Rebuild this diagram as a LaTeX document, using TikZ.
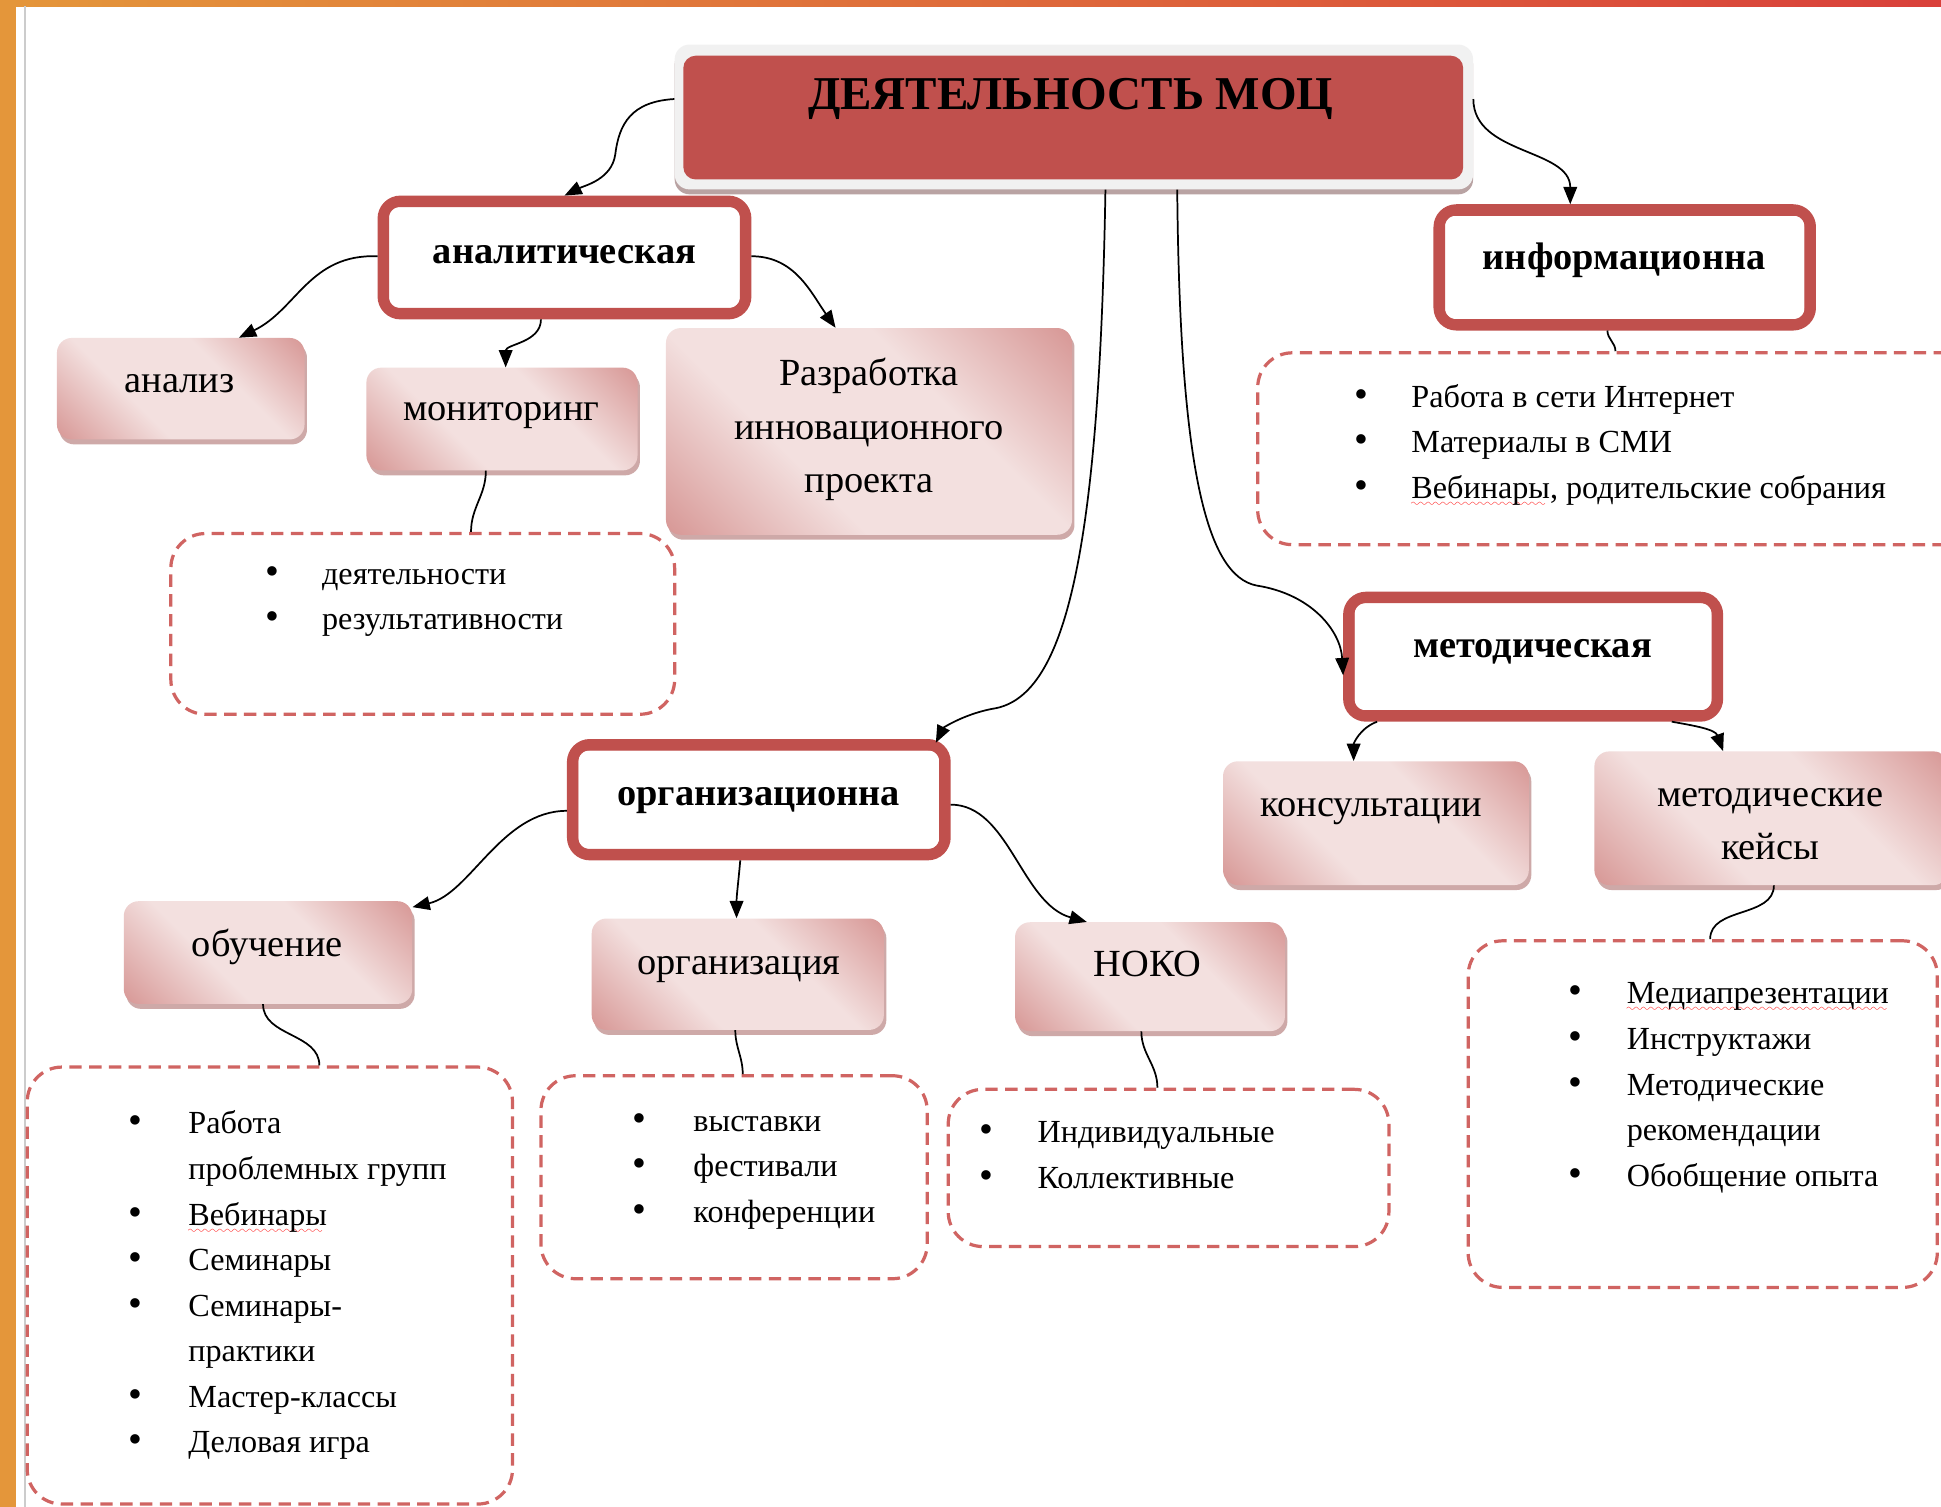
\documentclass[tikz,border=0pt]{standalone}
\usepackage{fontspec}
\setmainfont{Liberation Serif}
\usetikzlibrary{arrows.meta,shadows,calc}
\definecolor{accred}{HTML}{C0504D}
\definecolor{pinkdark}{HTML}{D48F8D}
\definecolor{pinklight}{HTML}{F3E0DF}
\definecolor{dashred}{HTML}{D06462}
\definecolor{orangeA}{HTML}{E4963A}
\definecolor{redB}{HTML}{D9403A}
\definecolor{rimgray}{HTML}{F1F1F1}
\definecolor{rimshadow}{HTML}{A88C8C}
\pgfdeclareverticalshading{pinkshade}{100bp}{color(0bp)=(pinkdark); color(12bp)=(pinkdark); color(38bp)=(pinklight); color(62bp)=(pinklight); color(88bp)=(pinkdark); color(100bp)=(pinkdark)}
\font\wavefont=lasy10 at 9pt
\newcommand\spellwave[1]{\setbox0\hbox{#1}\rlap{\smash{\textcolor{red}{\raisebox{-6.5pt}{\hbox to \wd0{\leaders\hbox{\wavefont\char58}\hfill}}}}}#1}
\newcommand\bul{{\fontsize{32}{0}\selectfont\textbullet}}
\tikzset{
  rim/.style={fill=rimgray, rounded corners=12pt, inner sep=0pt, minimum width=645, minimum height=117,
    drop shadow={shadow xshift=0pt, shadow yshift=-4pt, fill=rimshadow, opacity=0.8}},
  dblbox/.style={draw=accred, line width=9pt, fill=white, rounded corners=14pt, inner sep=0pt},
  innerline/.style={draw=accred, line width=1.6pt, rounded corners=8pt},
  pinkbox/.style={rounded corners=12pt, inner sep=0pt,
    shading=pinkshade, shading angle=135,
    drop shadow={shadow xshift=2pt, shadow yshift=-4pt, fill=accred!60!gray, opacity=0.55}},
  dashbox/.style={draw=dashred, line width=2.6pt, dash pattern=on 10pt off 6pt, rounded corners=28pt, inner sep=0pt},
  titletext/.style={font=\fontsize{38}{44}\selectfont\bfseries, inner sep=0pt, text height=0.7em, text depth=0.2em},
  boldlabel/.style={font=\fontsize{31}{36}\selectfont\bfseries, inner sep=0pt, text height=0.7em, text depth=0.2em},
  plainlabel/.style={font=\fontsize{31}{43}\selectfont, inner sep=0pt, align=center},
  listtext/.style={font=\fontsize{26}{36.8}\selectfont, inner sep=0pt, anchor=base west},
  conn/.style={draw=black, line width=1.4pt},
  arr/.style={conn, -{Triangle[length=14pt,width=11pt]}},
}
\newcommand\inner[1]{\draw[innerline] ($(#1.north west)+(8.5,-8.5)$) rectangle ($(#1.south east)+(-8.5,8.5)$);}
\begin{document}
\begin{tikzpicture}[x=1pt,y=1pt]
\useasboundingbox (0,0) rectangle (1568,-1217);
\clip (0,0) rectangle (1568,-1217);
\fill[white] (0,0) rectangle (1568,-1217);
\shade[left color=orangeA, right color=redB] (0,0) rectangle (1568,-5);
\fill[orangeA] (0,0) rectangle (13,-1217);
\draw[black!20, line width=1.5pt] (20,-5) -- (20,-1217);

% main box
\node[rim] (mainrim) at (867.5,-94.5) {};
\node[fill=accred, rounded corners=10pt, minimum width=630, minimum height=100, inner sep=0pt] (main) at (867,-95) {};
\node[titletext] (maintitle) at (865,-86) {ДЕЯТЕЛЬНОСТЬ МОЦ};

% double boxes
\node[dblbox, minimum width=293, minimum height=91] (ana) at (456,-208) {};
\inner{ana}
\node[boldlabel] (ana-t) at (456,-210) {аналитическая};
\node[dblbox, minimum width=300, minimum height=93] (info) at (1312.5,-216) {};
\inner{info}
\node[boldlabel] (info-t) at (1312,-215) {информационна};
\node[dblbox, minimum width=298, minimum height=96] (metod) at (1238.5,-530.5) {};
\inner{metod}
\node[boldlabel] (metod-t) at (1238,-529) {методическая};
\node[dblbox, minimum width=301, minimum height=89] (org) at (613,-646) {};
\inner{org}
\node[boldlabel] (org-t) at (613,-648) {организационна};

% pink boxes
\node[pinkbox, minimum width=200, minimum height=82] (analiz) at (146,-314) {};
\node[plainlabel] (analiz-t) at (145,-310) {анализ};
\node[pinkbox, minimum width=219, minimum height=83] (monit) at (405.5,-338.5) {};
\node[plainlabel] (monit-t) at (405,-336) {мониторинг};
\node[pinkbox, minimum width=328, minimum height=167] (razr) at (702,-348.5) {};
\node[plainlabel] (razr-t) at (702,-347) {Разработка\\инновационного\\проекта};
\node[pinkbox, minimum width=233, minimum height=83] (obuch) at (216.5,-769.5) {};
\node[plainlabel] (obuch-t) at (216,-765) {обучение};
\node[pinkbox, minimum width=236, minimum height=90] (orgz) at (596,-787) {};
\node[plainlabel] (orgz-t) at (597,-783) {организация};
\node[pinkbox, minimum width=218, minimum height=88] (noko) at (929,-789) {};
\node[plainlabel] (noko-t) at (927,-779) {НОКО};
\node[pinkbox, minimum width=247, minimum height=100] (kons) at (1111.5,-665) {};
\node[plainlabel] (kons-t) at (1108,-656) {консультации};
\node[pinkbox, minimum width=286, minimum height=108] (keis) at (1431,-661) {};
\node[plainlabel] (keis-t) at (1430,-666) {методические\\кейсы};

% dashed boxes
\node[dashbox, minimum width=407, minimum height=146] (dmon) at (341.5,-504) {};
\node[dashbox, minimum width=584, minimum height=155] (dinfo) at (1308,-362.5) {};
\node[dashbox, minimum width=392, minimum height=353] (dobu) at (218,-1038.5) {};
\node[dashbox, minimum width=312, minimum height=164] (dorg) at (593,-951) {};
\node[dashbox, minimum width=356, minimum height=127] (dnoko) at (944,-943.5) {};
\node[dashbox, minimum width=379, minimum height=280] (dkeis) at (1375.5,-900) {};

% lists
\node[listtext] (lmon) at (214,-472) {\begin{tabular}[t]{@{}p{46pt}@{}l@{}}
\bul & деятельности\\
\bul & результативности
\end{tabular}};
\node[listtext] (linfo) at (1094,-329) {\begin{tabular}[t]{@{}p{46pt}@{}l@{}}
\bul & Работа в сети Интернет\\
\bul & Материалы в СМИ\\
\bul & \spellwave{Вебинары}, родительские собрания
\end{tabular}};
\node[listtext] (lobu) at (104,-916) {\begin{tabular}[t]{@{}p{48pt}@{}l@{}}
\bul & Работа\\
 & проблемных групп\\
\bul & \spellwave{Вебинары}\\
\bul & Семинары\\
\bul & Семинары-\\
 & практики\\
\bul & Мастер-классы\\
\bul & Деловая игра
\end{tabular}};
\node[listtext] (lorg) at (511,-914) {\begin{tabular}[t]{@{}p{49pt}@{}l@{}}
\bul & выставки\\
\bul & фестивали\\
\bul & конференции
\end{tabular}};
\node[listtext] (lnoko) at (791,-923) {\begin{tabular}[t]{@{}p{47pt}@{}l@{}}
\bul & Индивидуальные\\
\bul & Коллективные
\end{tabular}};
\node[listtext] (lkeis) at (1267,-811) {\begin{tabular}[t]{@{}p{47pt}@{}l@{}}
\bul & \spellwave{Медиапрезентации}\\
\bul & Инструктажи\\
\bul & Методические\\
 & рекомендации\\
\bul & Обобщение опыта
\end{tabular}};

% connectors
\draw[arr] ([yshift=14.5]mainrim.west) .. controls (510,-82) and (500,-100) .. (497,-125)
   .. controls (494,-145) and (472,-150) .. (ana.north);
\draw[arr] ([yshift=14.5]mainrim.east) to[out=-90,in=90] ([xshift=-44]info.north);
\draw[arr] ([xshift=25.5]mainrim.south) .. controls (888,-450) and (860,-560) .. (805,-572)
   .. controls (780,-576) and (762,-588) .. ([xshift=-12,yshift=-3]org.north east);
\draw[arr] ([xshift=83.5]mainrim.south) .. controls (953,-380) and (975,-465) .. (1015,-473)
   .. controls (1060,-480) and (1083,-510) .. ([yshift=-15]metod.west);
\draw[arr] ([yshift=1]ana.west) .. controls (250,-205) and (240,-250) .. ([xshift=47]analiz.north);
\draw[arr] ([xshift=-19]ana.south) to[out=-90,in=90] ([xshift=3]monit.north);
\draw[arr] ([yshift=1]ana.east) to[out=0,in=125] ([xshift=-27]razr.north);
\draw[conn] ([xshift=-13]monit.south) to[out=-90,in=90] ([xshift=39]dmon.north);
\draw[conn] ([xshift=-14]info.south) to[out=-90,in=90] ([xshift=-3]dinfo.north);
\draw[arr] ([xshift=-126]metod.south) to[out=200,in=90] ([xshift=-18]kons.north);
\draw[arr] ([xshift=112]metod.south) to[out=-10,in=110] ([xshift=-39]keis.north);
\draw[conn] ([xshift=2]keis.south) to[out=-90,in=90] ([xshift=6]dkeis.north);
\draw[arr] ([yshift=-9]org.west) .. controls (405,-655) and (380,-722) .. ([yshift=-5]obuch.north east);
\draw[arr] ([xshift=-15]org.south) to[out=-95,in=90] ([xshift=-1]orgz.north);
\draw[arr] ([yshift=-4]org.east) .. controls (815,-650) and (825,-730) .. ([xshift=-51]noko.north);
\draw[conn] ([xshift=-4]obuch.south) to[out=-90,in=90] ([xshift=40]dobu.north);
\draw[conn] ([xshift=-2]orgz.south) to[out=-90,in=90] ([xshift=7]dorg.north);
\draw[conn] ([xshift=-7]noko.south) to[out=-90,in=90] ([xshift=-9]dnoko.north);
\end{tikzpicture}
\end{document}
